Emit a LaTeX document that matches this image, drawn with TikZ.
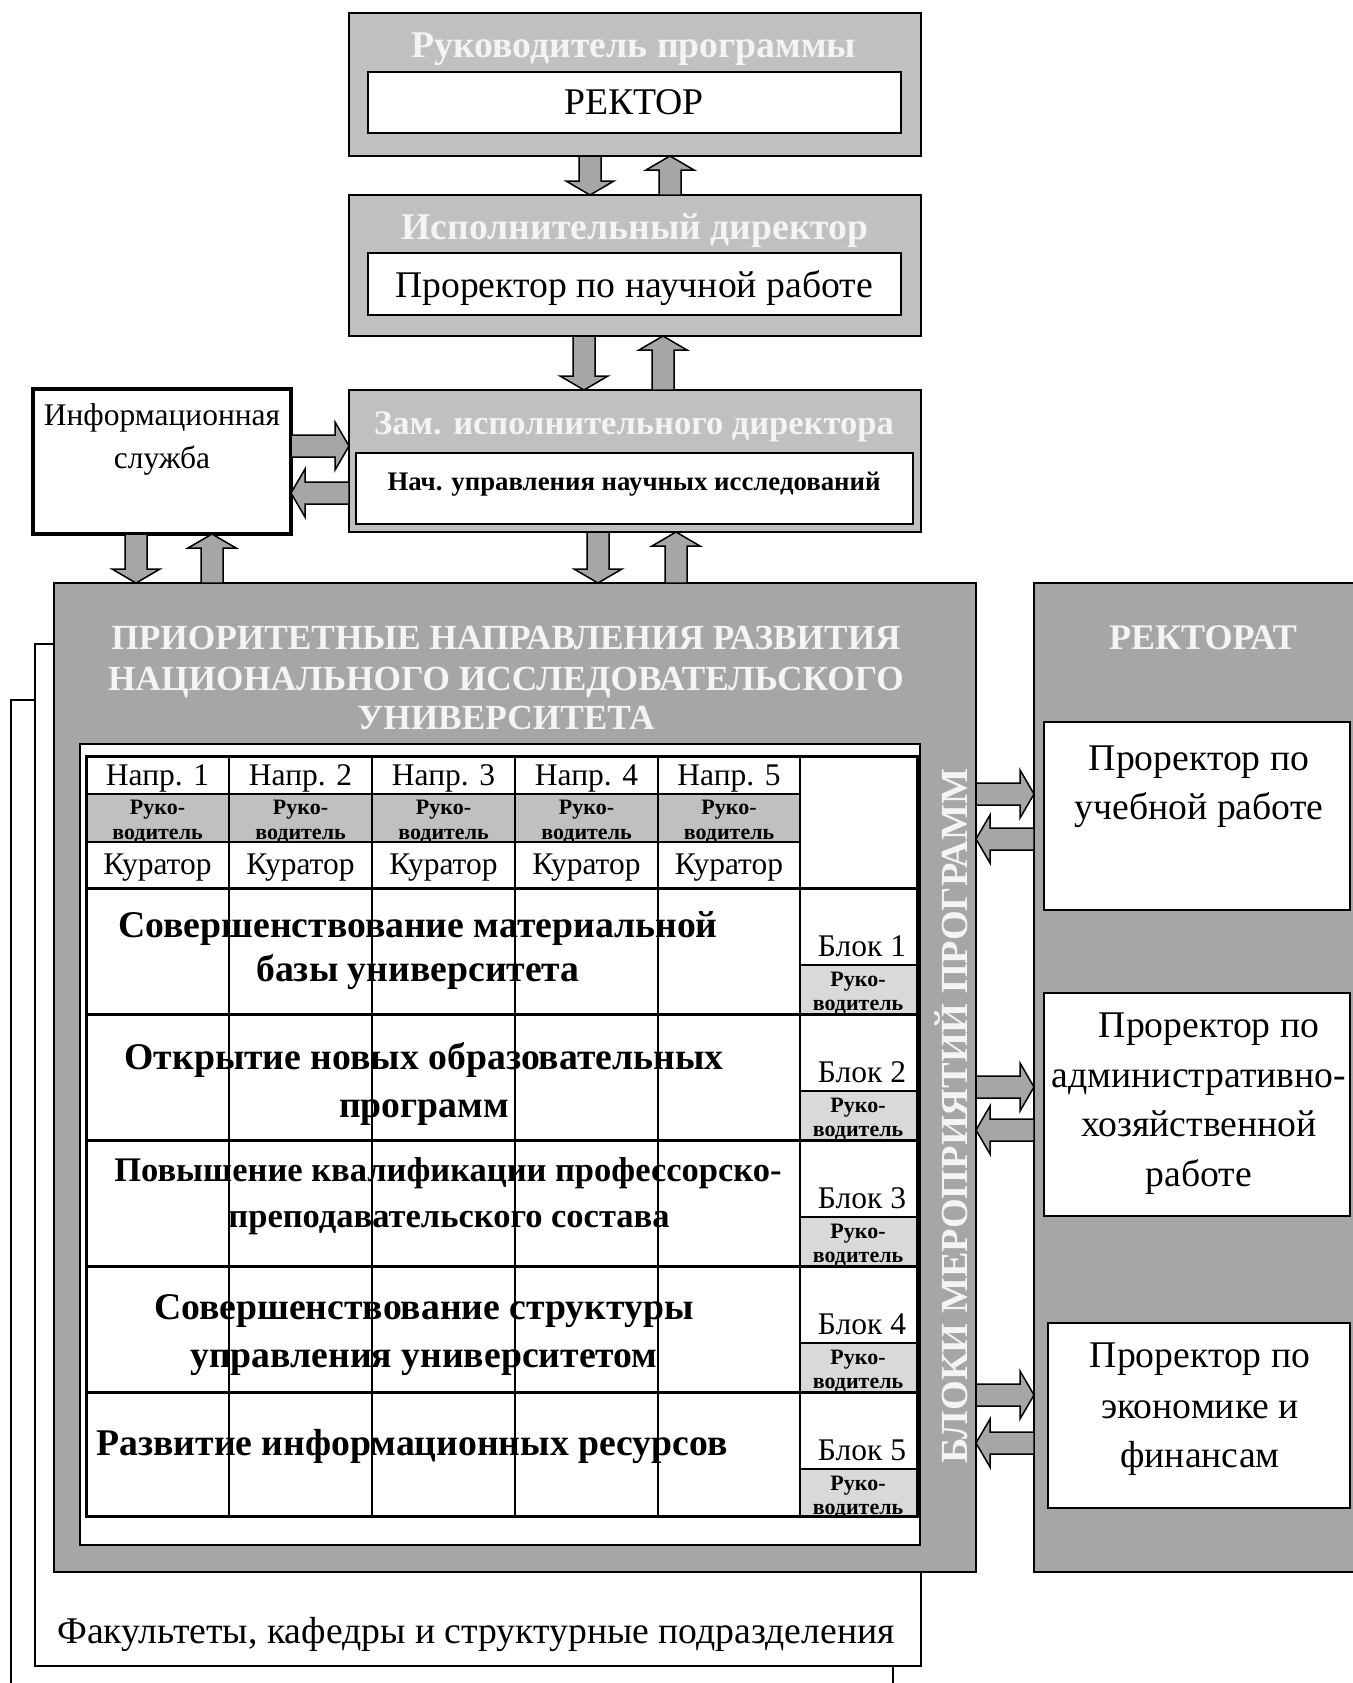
\documentclass[tikz,border=0pt]{standalone}
\usepackage{fontspec}
\setmainfont{Liberation Serif}
\usetikzlibrary{calc}
\definecolor{lgray}{HTML}{C0C0C0}
\definecolor{mgray}{HTML}{A6A6A6}
\definecolor{pgray}{HTML}{D9D9D9}
\definecolor{ttxt}{HTML}{F4F4F4}
\newcommand\barrow[2]{%
  \draw[arr] let \p1=($(#2)!14pt!(#1)$) in
  ($(#1)!11pt!90:(#2)$) -- ($(\p1)!11pt!90:(#2)$) -- ($(\p1)!24pt!90:(#2)$) -- (#2)
  -- ($(\p1)!24pt!-90:(#2)$) -- ($(\p1)!11pt!-90:(#2)$) -- ($(#1)!11pt!-90:(#2)$) -- cycle;}
\begin{document}
\begin{tikzpicture}[x=1pt,y=-1pt,
  box/.style={draw=black, line width=2pt, inner sep=0pt, outer sep=0pt, anchor=north west},
  gbox/.style={box, fill=lgray},
  dbox/.style={box, fill=mgray},
  wbox/.style={box, fill=white},
  arr/.style={draw=black, fill=mgray, line width=1.5pt, line join=miter},
  txt/.style={inner sep=0pt, anchor=mid},
  ttl/.style={txt, yshift=-10.5pt, font=\fontsize{37.7}{42}\selectfont\bfseries, text=ttxt},
  ttlsm/.style={txt, yshift=-9.6pt, font=\fontsize{34.5}{40}\selectfont\bfseries, text=ttxt},
  r36/.style={txt, yshift=-10.5pt, font=\fontsize{37.7}{42}\selectfont},
  b36/.style={txt, yshift=-10.5pt, font=\fontsize{37.7}{42}\selectfont\bfseries},
  b34/.style={txt, yshift=-9.6pt, font=\fontsize{34.5}{40}\selectfont\bfseries},
  r30/.style={txt, yshift=-8pt, font=\fontsize{31.5}{35}\selectfont},
  b21/.style={txt, yshift=-5pt, font=\fontsize{22}{25}\selectfont\bfseries},
  b26/.style={txt, yshift=-7pt, font=\fontsize{26.8}{30}\selectfont\bfseries},
  bigttl/.style={txt, yshift=-10pt, font=\fontsize{35.3}{40}\selectfont\bfseries, text=ttxt},
]
\useasboundingbox (0,0) rectangle (1352,1683);
% background frames
\node[wbox, line width=1.5pt, minimum width=882pt, minimum height=1100pt] (frameB) at (11,700) {};
\node[wbox, line width=1.5pt, minimum width=886pt, minimum height=1022pt] (frameA) at (35,644) {};
\node[r36] (fac) at (476,1631) {Факультеты, кафедры и структурные подразделения};
% big box
\node[dbox, minimum width=922pt, minimum height=989pt] (big) at (54,583) {};
\node[bigttl] (bt1) at (506,637) {ПРИОРИТЕТНЫЕ НАПРАВЛЕНИЯ РАЗВИТИЯ};
\node[bigttl] (bt2) at (506,678) {НАЦИОНАЛЬНОГО ИССЛЕДОВАТЕЛЬСКОГО};
\node[bigttl] (bt3) at (506,717) {УНИВЕРСИТЕТА};
\node[wbox, line width=1.5pt, minimum width=840pt, minimum height=801pt] (panel) at (80,744) {};
\node[txt, rotate=90, font=\fontsize{38.3}{42}\selectfont\bfseries, text=ttxt] (blk) at (965,1116) {БЛОКИ МЕРОПРИЯТИЙ ПРОГРАММ};
% table
\node[wbox, line width=3pt, minimum width=831pt, minimum height=760pt] (table) at (86,756) {};
\fill[lgray] (86,794) rectangle (800,842);
\foreach \r in {888,1014,1140,1266,1392}{
  \fill[pgray] (800,\r+77) rectangle (917,\r+125);
  \draw[line width=2.5pt] (800,\r+77) -- (917,\r+77);
}
\draw[line width=2.5pt] (86,794) -- (800,794) (86,842) -- (800,842);
\foreach \r in {888,1014,1140,1266,1392}{\draw[line width=3pt] (86,\r) -- (917,\r);}
\foreach \c in {229,372,515,658}{\draw[line width=1.8pt] (\c,756) -- (\c,1516);}
\draw[line width=2.5pt] (800,756) -- (800,1516);
\draw[line width=3pt] (86,756) rectangle (917,1516);
\foreach \c/\n in {157.5/1,300.5/2,443.5/3,586.5/4,729/5}{
  \node[r30] (np\n) at (\c,775) {Напр. \n};
  \node[b21] (hr\n) at (\c,807) {Руко-};
  \node[b21] (hv\n) at (\c,832) {водитель};
  \node[r30] (ku\n) at (\c,864) {Куратор};
}
\foreach \r/\n in {888/1,1014/2,1140/3,1266/4,1392/5}{
  \node[r30] (bl\n) at (862,\r+58) {Блок \n};
  \node[b21] (br\n) at (858,\r+91) {Руко-};
  \node[b21] (bv\n) at (858,\r+115) {водитель};
}
\node[b36] (r1a) at (418,925) {Совершенствование материальной};
\node[b36] (r1b) at (418,969) {базы университета};
\node[b36] (r2a) at (424,1057) {Открытие новых образовательных};
\node[b36] (r2b) at (424,1105) {программ};
\node[b34] (r3a) at (448,1170) {Повышение квалификации профессорско-};
\node[b34] (r3b) at (449,1216) {преподавательского состава};
\node[b36] (r4a) at (424,1307) {Совершенствование структуры};
\node[b36] (r4b) at (424,1355) {управления университетом};
\node[b36] (r5a) at (412,1443) {Развитие информационных ресурсов};
% rektorat
\node[dbox, minimum width=340pt, minimum height=989pt] (rekt) at (1034,583) {};
\node[txt, yshift=-9pt, font=\fontsize{36}{40}\selectfont\bfseries, text=ttxt] (rektt) at (1203,638) {РЕКТОРАТ};
\node[wbox, minimum width=306pt, minimum height=188pt] (pr1) at (1044,722) {};
\node[wbox, minimum width=306pt, minimum height=223pt] (pr2) at (1044,993) {};
\node[wbox, minimum width=302pt, minimum height=185pt] (pr3) at (1048,1323) {};
\node[r36] (p1a) at (1199,758) {Проректор по};
\node[r36] (p1b) at (1199,807) {учебной работе};
\node[r36] (p2a) at (1209,1025) {Проректор по};
\node[r36] (p2b) at (1199,1075) {административно-};
\node[r36] (p2c) at (1199,1124) {хозяйственной};
\node[r36] (p2d) at (1199,1174) {работе};
\node[r36] (p3a) at (1200,1355) {Проректор по};
\node[r36] (p3b) at (1200,1406) {экономике и};
\node[r36] (p3c) at (1200,1455) {финансам};
% top boxes
\node[gbox, minimum width=572pt, minimum height=143pt] (top) at (349,13) {};
\node[wbox, minimum width=533pt, minimum height=61pt] (topin) at (368,72) {};
\node[ttl] (t1) at (634,45) {Руководитель программы};
\node[r36] (t1in) at (634,102) {РЕКТОР};
\node[gbox, minimum width=572pt, minimum height=141pt] (box2) at (349,195) {};
\node[wbox, minimum width=533pt, minimum height=62pt] (box2in) at (368,253) {};
\node[ttl] (t2) at (635,227) {Исполнительный директор};
\node[r36] (t2in) at (634,285) {Проректор по научной работе};
\node[gbox, minimum width=572pt, minimum height=142pt] (box3) at (349,390) {};
\node[wbox, minimum width=557pt, minimum height=71pt] (box3in) at (356,453) {};
\node[ttlsm] (t3) at (634,423) {Зам. исполнительного директора};
\node[b26] (t3in) at (634,481) {Нач. управления научных исследований};
% info
\node[wbox, line width=3.5pt, minimum width=258pt, minimum height=145pt] (info) at (33,389) {};
\node[r30] (i1) at (162,415) {Информационная};
\node[r30] (i2) at (162,458) {служба};
% arrows
\coordinate (a1) at ($(top.south)+(-45,0)$);
\coordinate (a2) at ($(top.south)+(35,0)$);
\barrow{a1}{a1 |- box2.north}
\barrow{a2 |- box2.north}{a2}
\coordinate (a3) at ($(box2.south)+(-51,0)$);
\coordinate (a4) at ($(box2.south)+(28,0)$);
\barrow{a3}{a3 |- box3.north}
\barrow{a4 |- box3.north}{a4}
\coordinate (a5) at ($(info.south)+(-26,0)$);
\coordinate (a6) at ($(info.south)+(50,0)$);
\barrow{a5}{a5 |- big.north}
\barrow{a6 |- big.north}{a6}
\coordinate (a7) at ($(box3.south)+(-37,0)$);
\coordinate (a8) at ($(box3.south)+(41,0)$);
\barrow{a7}{a7 |- big.north}
\barrow{a8 |- big.north}{a8}
\coordinate (h1) at ($(info.east)+(0,-15.5)$);
\coordinate (h2) at ($(info.east)+(0,31.5)$);
\barrow{h1}{h1 -| box3.west}
\barrow{h2 -| box3.west}{h2}
\foreach \yr/\yl [count=\k] in {794/839,1087/1130,1395/1443}{
  \coordinate (r\k) at ($(big.east)+(0,\yr-1077.5)$);
  \coordinate (l\k) at ($(big.east)+(0,\yl-1077.5)$);
  \barrow{r\k}{r\k -| rekt.west}
  \barrow{l\k -| rekt.west}{l\k}
}
\end{tikzpicture}
\end{document}
